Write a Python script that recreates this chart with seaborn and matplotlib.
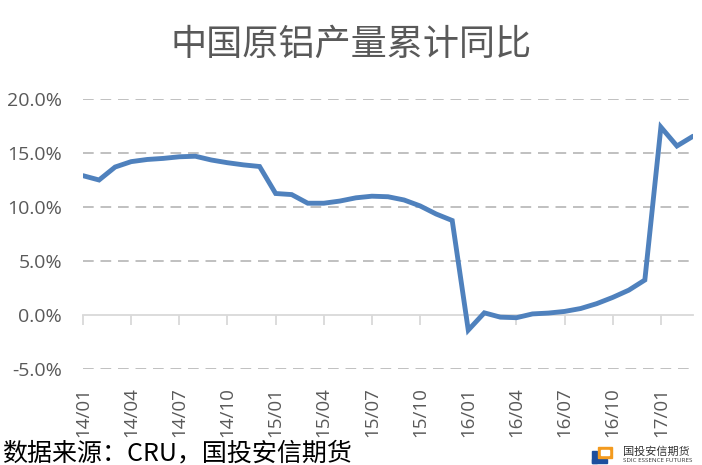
import pandas as pd
import numpy as np
import matplotlib.pyplot as plt
from matplotlib.patches import Rectangle
import seaborn as sns

# monthly cumulative YoY growth of China primary aluminium output (%)
months = pd.date_range('2014-01-01', '2017-03-01', freq='MS').strftime('%y/%m').tolist()
yoy = [12.9, 12.5, 13.7, 14.2, 14.4, 14.5, 14.65, 14.7, 14.35, 14.1, 13.9, 13.75,
       11.25, 11.15, 10.35, 10.35, 10.55, 10.85, 11.0, 10.95, 10.65, 10.1, 9.35, 8.75,
       -1.4, 0.2, -0.2, -0.25, 0.1, 0.18, 0.33, 0.6, 1.05, 1.63, 2.3, 3.24,
       17.4, 15.65, 16.55]
yticks = [-5, 0, 5, 10, 15, 20]

df = pd.DataFrame({'idx': range(len(months)), 'month': months, 'yoy': yoy})

sns.set_theme(style='white')
plt.rcParams['font.family'] = ['Open Sans', 'Noto Sans CJK SC', 'DejaVu Sans']

fig = plt.figure(figsize=(7.02, 4.65), dpi=100)
ax = fig.add_axes([83/702, 1 - 369/465, 610/702, 270/465])

for v in yticks:
    if v != 0:
        ax.axhline(v, color='#c0c0c0', lw=1.4, dashes=(5.5, 3.5), zorder=0)

sns.lineplot(data=df, x='idx', y='yoy', ax=ax, color='#4f81bd', lw=3.5,
             solid_joinstyle='miter', zorder=3)

ax.set_xlim(0, len(months) - 1)
ax.set_ylim(-5, 20)
ax.set_yticks(yticks)
ax.set_yticklabels([f'{v:.1f}%' for v in yticks])
tick_idx = list(range(0, len(months), 3))
ax.set_xticks(tick_idx)
ax.set_xticklabels([months[i] for i in tick_idx], rotation=90)
ax.tick_params(axis='y', length=0, pad=15, labelsize=14, labelcolor='#595959')
ax.tick_params(axis='x', length=0, pad=13, labelsize=13.5, labelcolor='#595959')
ax.set_xlabel('')
ax.set_ylabel('')
for s in ax.spines.values():
    s.set_visible(False)

# the category axis line sits at zero, labels stay low
zero_pos = (0 - ax.get_ylim()[0]) / (ax.get_ylim()[1] - ax.get_ylim()[0])
sec = ax.secondary_xaxis(zero_pos)
sec.set_xticks(tick_idx)
sec.set_xticklabels([])
sec.spines['bottom'].set_color('#d9d9d9')
sec.spines['bottom'].set_linewidth(1.3)
sec.tick_params(axis='x', direction='out', length=7, width=1.3, color='#d9d9d9')

fig.text(351/702, 1 - 45/465, '中国原铝产量累计同比', ha='center', va='center',
         fontsize=26, color='#595959', family=['Noto Sans CJK SC', 'DejaVu Sans'])
fig.text(2/702, 1 - 453/465, '数据来源：CRU，国投安信期货', ha='left', va='center',
         fontsize=18, color='black', family=['Noto Sans CJK SC', 'DejaVu Sans'])

# company logo, roughly
fig.patches.append(Rectangle((592/702, 1 - 463/465), 5/702, 12/465,
                             transform=fig.transFigure, color='#1d4f9e'))
fig.patches.append(Rectangle((592/702, 1 - 463/465), 15/702, 4/465,
                             transform=fig.transFigure, color='#1d4f9e'))
fig.patches.append(Rectangle((598/702, 1 - 458/465), 14/702, 11/465,
                             transform=fig.transFigure, color='#f39a1e'))
fig.patches.append(Rectangle((601/702, 1 - 455/465), 8/702, 5/465,
                             transform=fig.transFigure, color='white'))
fig.text(623/702, 1 - 452/465, '国投安信期货', ha='left', va='center', fontsize=8,
         color='#333333', family=['Noto Sans CJK SC', 'DejaVu Sans'])
fig.text(623/702, 1 - 460/465, 'SDIC ESSENCE FUTURES', ha='left', va='center',
         fontsize=4.5, color='#333333')

fig.savefig('out.png', dpi=100)
